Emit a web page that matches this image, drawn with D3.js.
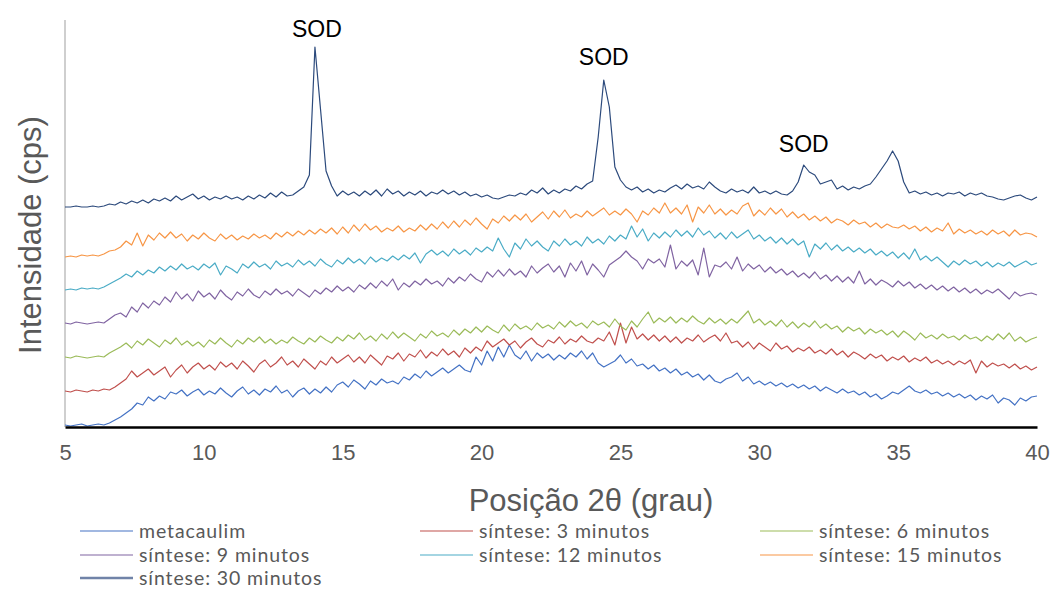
<!DOCTYPE html>
<html><head><meta charset="utf-8">
<script src="https://cdn.jsdelivr.net/npm/d3@7"></script>
<style>body{margin:0;background:#fff}svg{display:block}</style>
</head><body>
<script>
const seriesNames = ["metacaulim","síntese: 3 minutos","síntese: 6 minutos","síntese: 9 minutos","síntese: 12 minutos","síntese: 15 minutos","síntese: 30 minutos"];
const seriesColors = ["#4472C4","#C0504D","#9BBB59","#8064A2","#4BACC6","#F79646","#2C4A7C"];
const legendColors = ["#4472C4","#C0504D","#9BBB59","#8064A2","#4BACC6","#F79646","#7083A8"];
const xTicks = [5,10,15,20,25,30,35,40];
// 2θ sampled every 0.2° from 5 to 40
const twoTheta = d3.range(0,176).map(i => +(5 + i*0.2).toFixed(1));

const metacaulim = [2,1,2,3,1,2,3,2,4,7, 10,14,18,24,22,30,26,31,28,35, 33,37,31,35,38,32,36,33,39,34, 30,36,40,33,37,32,38,35,41,34,
 37,30,36,39,33,38,34,40,35,42, 45,40,47,43,38,46,42,48,44,46, 43,50,47,53,49,56,51,55,59,54, 58,62,57,55,70,62,76,66,80,70,
 82,72,68,76,66,74,69,73,67,72, 68,74,70,76,68,74,64,60,63,66, 72,64,68,61,63,58,62,56,59,54, 58,52,55,50,53,47,52,46,44,48,
 50,54,46,50,43,46,42,45,41,44, 40,43,39,42,38,41,36,40,37,34, 38,34,36,32,35,30,33,28,31,35, 33,37,41,36,34,37,33,35,31,34,
 30,33,29,32,27,31,28,32,24,29, 27,22,29,26,30,31];
const sintese3 = [36,35,37,36,35,37,36,38,37,40, 44,48,56,50,54,58,52,56,60,50, 57,62,54,60,64,58,62,57,65,60, 64,58,66,61,55,63,67,60,64,70,
 62,66,60,68,63,58,66,62,70,64, 68,72,65,70,64,72,67,62,71,68, 74,66,73,70,77,69,75,71,78,72, 76,70,79,74,80,76,86,80,84,88,
 82,86,79,85,89,83,80,87,84,90, 83,88,85,91,86,84,89,86,95,82, 104,84,100,88,93,87,92,86,91,85, 90,84,89,86,92,85,89,92,86,94,
 84,86,80,85,78,84,80,76,84,78, 81,75,79,76,80,74,77,73,78,72, 76,70,75,72,68,73,69,72,66,70, 67,71,65,69,66,70,64,67,63,66,
 62,66,63,67,54,66,60,64,61,63, 59,63,58,61,57,60];
const sintese6 = [70,69,71,70,69,70,71,70,74,77, 80,84,79,86,82,88,84,80,87,83, 89,82,86,81,85,80,87,83,89,84, 80,87,83,89,85,90,84,88,83,87,
 84,90,86,83,89,85,91,87,84,90, 86,92,88,94,87,91,86,93,88,95, 89,94,90,86,93,89,96,91,94,90, 97,92,98,94,100,95,101,97,94,102,
 96,103,98,101,97,104,99,102,98,105, 100,106,101,104,99,106,102,105,100,108, 101,97,106,100,108,115,104,109,105,110, 104,109,105,111,106,103,109,104,108,103,
 108,104,110,116,104,108,102,106,101,107, 100,105,99,104,100,106,99,103,98,101, 95,100,96,99,93,98,94,97,92,96, 90,96,92,87,94,89,92,88,93,89,
 91,87,92,88,90,86,91,87,93,88, 94,86,90,85,88,90];
const sintese9 = [104,103,105,104,103,104,105,104,108,112, 114,110,120,115,124,119,126,122,130,125, 135,128,133,126,136,130,134,128,137,131, 127,135,131,138,132,129,136,132,138,133,
 136,131,138,134,130,137,133,139,135,141, 136,140,135,142,138,144,139,146,141,148, 137,144,140,146,142,148,143,146,141,149, 144,150,146,153,148,145,155,150,157,151,
 158,152,156,150,161,154,159,163,155,161, 150,164,156,166,152,163,157,150,162,166, 170,176,170,166,158,168,164,168,160,182, 158,166,161,167,152,179,150,162,160,165,
 158,170,156,163,158,162,155,160,154,158, 152,156,150,154,149,155,148,152,146,151, 145,150,144,156,143,148,142,147,144,140, 146,141,145,139,143,138,142,137,141,136,
 140,135,139,134,138,133,137,134,138,133, 128,135,131,133,134,132];
const sintese12 = [137,138,137,139,138,139,138,140,143,146, 149,153,150,156,152,157,154,160,156,161, 157,163,158,161,157,163,159,164,152,161, 158,154,163,159,165,160,163,158,166,161,
 164,160,167,162,166,161,168,163,160,167, 163,169,164,168,163,170,165,169,166,171, 167,172,168,174,164,173,177,172,176,171, 178,173,177,172,179,175,180,176,189,178,
 170,184,178,188,181,186,180,176,186,181, 188,182,186,181,190,184,188,183,191,186, 192,188,201,190,198,186,194,189,195,190, 197,191,196,190,199,192,196,189,194,188,
 195,189,193,197,188,192,186,190,184,189, 183,188,182,186,170,183,178,184,177,182, 176,180,175,179,174,178,172,176,171,175, 169,174,168,178,167,171,166,170,165,160,
 166,162,167,163,166,161,165,160,164,161, 165,160,163,166,162,164];
const sintese15 = [170,171,170,172,171,172,171,173,176,177, 180,186,182,194,181,192,187,194,189,195, 189,193,186,192,188,194,189,186,193,188, 192,187,191,188,193,189,192,188,194,190,
 195,191,196,192,197,193,198,194,199,193, 200,194,202,196,203,197,201,195,199,196, 201,195,199,196,202,197,203,198,205,199, 206,200,207,202,209,203,198,208,204,211,
 206,212,207,213,205,210,215,208,216,210, 217,209,213,210,216,211,215,219,212,216, 212,218,213,205,216,212,219,214,224,214, 219,213,222,205,220,214,222,213,218,212,
 217,213,221,224,211,217,212,219,213,218, 210,215,209,213,207,211,206,210,204,208, 206,202,207,203,205,200,204,199,203,200, 199,202,198,201,196,200,195,199,196,204,
 193,198,194,197,193,196,192,197,193,196, 191,197,192,194,193,190];
const sintese30 = [220,220,221,220,220,221,220,221,223,222, 225,223,226,224,227,224,228,226,229,226, 231,227,230,233,228,231,227,230,228,231, 228,230,227,231,228,232,229,234,230,235,
 231,232,236,240,252,380,318,256,241,231, 236,232,235,231,236,232,237,231,238,233, 236,231,235,232,236,231,235,233,237,233, 236,232,235,231,233,230,232,229,228,230,
 232,231,234,232,237,234,239,233,237,234, 238,236,241,238,243,246,290,347,320,260, 247,240,237,240,235,238,234,237,235,239, 242,238,243,239,241,238,245,240,236,234,
 238,235,237,234,240,234,236,233,236,233, 232,236,245,262,255,252,243,245,247,238, 241,237,240,238,241,243,250,258,266,276, 266,245,234,236,233,235,232,234,231,234,
 233,235,231,234,232,234,231,230,228,227, 229,231,232,229,227,230];
const allSeries = [metacaulim, sintese3, sintese6, sintese9, sintese12, sintese15, sintese30];
const peakLabels = ["SOD","SOD","SOD"];
const peakPos = [[14.07,390],[24.4,362],[31.6,275]];

const W = 1051, H = 592;
const FONT = "'Liberation Sans', Arial, sans-serif";
const svg = d3.select("body").append("svg").attr("width", W).attr("height", H);
const x = d3.scaleLinear().domain([5,40]).range([65,1037]);
const y = d3.scaleLinear().domain([0,407]).range([427,20]);

svg.append("line").attr("x1",65).attr("x2",65).attr("y1",20).attr("y2",427)
  .attr("stroke","#BFBFBF").attr("stroke-width",1.5);

const line = d3.line().x((d,i)=>x(twoTheta[i])).y(d=>y(d));
allSeries.forEach((s,k)=>{
  svg.append("path").datum(s).attr("d",line).attr("fill","none")
    .attr("stroke",seriesColors[k]).attr("stroke-width",1.2).attr("stroke-linejoin","round");
});

const xAxis = svg.append("g").attr("transform","translate(0,427)")
  .call(d3.axisBottom(x).tickValues(xTicks).tickSize(0).tickPadding(17));
xAxis.select(".domain").attr("stroke","#000").attr("stroke-width",2.5);
xAxis.selectAll("text").attr("font-family",FONT).attr("font-size",22).attr("fill","#595959");

peakLabels.forEach((t,i)=>{
  svg.append("text").attr("x",x(peakPos[i][0])).attr("y",y(peakPos[i][1]))
    .attr("text-anchor","middle").attr("font-family",FONT)
    .attr("font-size",23).attr("fill","#000").text(t);
});

svg.append("text").attr("x",591).attr("y",511).attr("text-anchor","middle")
  .attr("font-family",FONT).attr("font-size",31).attr("fill","#595959")
  .text("Posição 2θ (grau)");
svg.append("text").attr("transform","translate(41,235) rotate(-90)").attr("text-anchor","middle")
  .attr("font-family",FONT).attr("font-size",31).attr("fill","#595959")
  .text("Intensidade (cps)");

const legCols = [80,420,760], legRows = [531,555,578];
seriesNames.forEach((n,i)=>{
  const cx = legCols[i%3], cy = legRows[Math.floor(i/3)];
  svg.append("line").attr("x1",cx).attr("x2",cx+53).attr("y1",cy).attr("y2",cy)
    .attr("stroke",legendColors[i]).attr("stroke-width",i===6?2.5:1.2);
  svg.append("text").attr("x",cx+59).attr("y",cy+7).attr("font-family","Lato, sans-serif")
    .attr("font-size",19.5).attr("letter-spacing",0.9).attr("fill","#595959").text(n);
});
</script>
</body></html>
